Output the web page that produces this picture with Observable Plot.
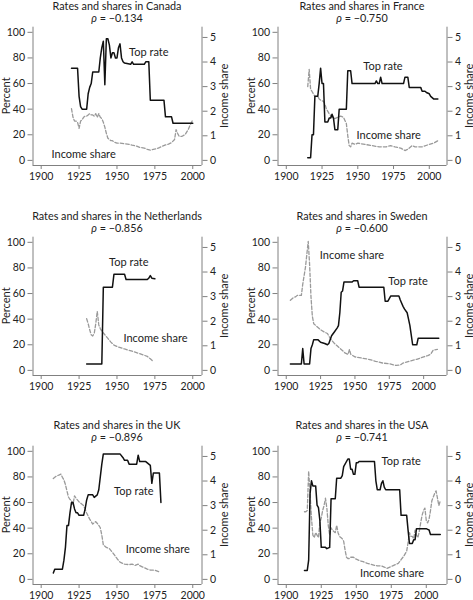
<!DOCTYPE html>
<html><head><meta charset="utf-8">
<script src="https://cdn.jsdelivr.net/npm/d3@7"></script>
<script src="https://cdn.jsdelivr.net/npm/@observablehq/plot@0.6"></script>
<style>
body{margin:0;background:#fff;}
#root{position:relative;width:473px;height:600px;overflow:hidden;background:#fff;}
.panel{position:absolute;width:236px;height:210px;}
.panel svg{max-width:none !important;}
</style></head><body><div id="root"></div>
<script>
const countries = ["Canada","France","the Netherlands","Sweden","the UK","the USA"];
const rhos = ["−0.134","−0.750","−0.856","−0.600","−0.896","−0.741"];
const percentTicks = [0,20,40,60,80,100];
const shareTicks = [0,1,2,3,4,5];
const yearTicks = [1900,1925,1950,1975,2000];

const canadaRate = [[1920,72],[1924,72],[1925,50],[1926,42],[1927,40],[1930,40],[1931,52],[1932,57],[1933,60],[1934,69],[1938,69],[1939,80],[1940,88],[1941,93],[1942,59],[1943,95],[1944,95],[1945,90],[1946,80],[1947,84],[1948,84],[1949,80],[1950,80],[1951,88],[1952,91],[1953,80],[1954,77],[1955,76],[1959,75],[1960,77],[1961,75],[1968,75],[1969,77],[1971,77],[1972,47],[1981,47],[1982,34],[1986,34],[1987,29],[2000,29]];
const canadaShare = [[1920,2.1],[1921,1.75],[1922,1.6],[1923,1.6],[1924,1.55],[1925,1.3],[1926,1.6],[1927,1.65],[1928,1.75],[1929,1.8],[1930,1.8],[1931,1.85],[1932,1.9],[1933,1.85],[1934,1.85],[1935,1.8],[1936,1.9],[1937,1.75],[1938,1.9],[1939,1.75],[1940,1.7],[1941,1.55],[1942,1.35],[1943,1.1],[1944,0.9],[1945,0.85],[1946,0.8],[1947,0.8],[1948,0.75],[1950,0.7],[1952,0.7],[1955,0.68],[1958,0.65],[1960,0.62],[1963,0.58],[1965,0.53],[1968,0.5],[1970,0.45],[1972,0.42],[1974,0.45],[1976,0.47],[1978,0.52],[1980,0.58],[1982,0.63],[1984,0.66],[1986,0.72],[1988,0.85],[1989,1.25],[1990,1.1],[1991,0.98],[1993,0.98],[1995,1.05],[1997,1.25],[1998,1.4],[2000,1.65]];

const franceRate = [[1915,2],[1917,2],[1918,20],[1919,20],[1920,50],[1922,50],[1923,60],[1924,72],[1925,60],[1926,60],[1927,30],[1929,30],[1930,33],[1931,33],[1932,36],[1933,33],[1934,24],[1936,24],[1937,40],[1942,40],[1943,70],[1945,70],[1946,60],[1962,60],[1963,62],[1964,60],[1965,60],[1966,65],[1967,60],[1982,60],[1983,65],[1985,65],[1986,57],[1994,57],[1995,54],[1997,54],[1998,53],[2000,52],[2001,50],[2002,49],[2003,48],[2006,48]];
const franceShare = [[1915,3.0],[1916,3.7],[1917,2.9],[1918,2.8],[1919,2.7],[1920,2.6],[1922,2.6],[1923,2.5],[1924,2.45],[1926,2.4],[1927,2.3],[1928,2.1],[1930,1.9],[1932,1.75],[1934,1.7],[1936,1.75],[1938,1.8],[1940,1.75],[1942,1.5],[1943,1.0],[1944,0.6],[1945,0.55],[1946,0.7],[1948,0.65],[1950,0.7],[1955,0.65],[1960,0.6],[1965,0.55],[1970,0.55],[1973,0.6],[1976,0.55],[1980,0.5],[1983,0.4],[1985,0.45],[1988,0.6],[1990,0.55],[1995,0.55],[2000,0.65],[2003,0.7],[2006,0.8]];

const netherlandsRate = [[1930,5],[1940,5],[1941,65],[1947,65],[1948,75],[1955,75],[1956,71],[1970,71],[1971,72],[1972,74],[1973,72],[1975,71.5]];
const netherlandsShare = [[1930,2.1],[1931,1.9],[1932,1.65],[1933,1.45],[1934,1.4],[1935,1.5],[1936,1.9],[1937,2.4],[1938,1.85],[1939,1.7],[1940,1.6],[1942,1.45],[1944,1.3],[1946,1.15],[1948,1.03],[1950,0.97],[1955,0.87],[1960,0.78],[1965,0.68],[1970,0.57],[1972,0.47],[1974,0.36]];

const swedenRate = [[1903,5],[1911,5],[1912,17],[1913,5],[1917,5],[1918,17],[1919,20],[1920,24],[1923,24],[1925,22],[1928,21],[1930,20],[1931,21],[1933,27],[1935,30],[1937,33],[1938,35],[1939,45],[1940,61],[1941,62],[1942,69],[1948,69],[1949,70],[1952,70],[1953,65],[1971,65],[1972,54],[1974,54],[1976,58],[1982,58],[1983,55],[1985,50],[1986,48],[1988,45],[1989,40],[1990,35],[1992,20],[1995,20],[1996,25],[2011,25]];
const swedenShare = [[1903,2.85],[1905,2.95],[1907,3.0],[1908,3.05],[1911,3.05],[1912,3.5],[1914,4.2],[1916,5.25],[1917,4.3],[1918,3.0],[1919,2.2],[1920,1.9],[1922,1.8],[1925,1.65],[1928,1.55],[1930,1.5],[1932,1.3],[1935,1.1],[1938,0.95],[1940,0.85],[1943,0.7],[1945,0.65],[1946,0.85],[1947,0.65],[1950,0.55],[1955,0.5],[1960,0.45],[1965,0.37],[1970,0.3],[1975,0.27],[1980,0.2],[1983,0.22],[1985,0.3],[1990,0.38],[1995,0.45],[2000,0.55],[2003,0.6],[2005,0.65],[2007,0.83],[2010,0.85]];

const ukRate = [[1908,5],[1909,8],[1914,8],[1915,15],[1916,25],[1917,42],[1918,42],[1919,52],[1920,60],[1921,60],[1922,55],[1923,52],[1924,52],[1925,50],[1928,50],[1929,55],[1930,62],[1931,66],[1934,66],[1935,64],[1937,66],[1938,70],[1939,80],[1940,90],[1941,98],[1952,98],[1954,95],[1955,93],[1957,93],[1958,90],[1963,90],[1964,97],[1965,92],[1969,92],[1971,90],[1972,89],[1973,75],[1974,83],[1978,83],[1979,60]];
const ukShare = [[1908,4.1],[1910,4.2],[1912,4.25],[1913,4.28],[1914,4.15],[1915,4.05],[1916,3.85],[1917,3.6],[1918,3.35],[1919,3.25],[1920,3.2],[1921,3.05],[1922,3.4],[1923,3.3],[1925,3.15],[1928,3.0],[1930,2.7],[1932,2.45],[1934,2.25],[1936,2.35],[1938,2.2],[1939,2.1],[1940,1.8],[1941,1.4],[1943,1.3],[1945,1.25],[1947,1.1],[1950,0.85],[1952,0.7],[1955,0.62],[1958,0.6],[1960,0.62],[1962,0.57],[1964,0.62],[1965,0.56],[1967,0.5],[1970,0.42],[1972,0.38],[1975,0.37],[1978,0.3]];

const usaRate = [[1913,7],[1915,7],[1916,15],[1917,67],[1918,77],[1919,73],[1921,73],[1922,58],[1923,56],[1924,46],[1925,25],[1928,25],[1929,24],[1931,25],[1932,63],[1935,63],[1936,79],[1939,79],[1940,81],[1941,88],[1944,94],[1945,94],[1946,86],[1947,86],[1948,82],[1949,82],[1950,91],[1951,91],[1952,92],[1963,92],[1964,77],[1965,70],[1967,70],[1968,75],[1969,77],[1970,72],[1971,70],[1981,70],[1982,50],[1986,50],[1987,38.5],[1988,28],[1990,28],[1991,31],[1992,31],[1993,39.6],[2000,39.6],[2001,39.1],[2002,38.6],[2003,35],[2010,35]];
const usaShare = [[1913,2.75],[1914,2.75],[1915,2.8],[1916,4.4],[1917,3.5],[1918,2.5],[1919,1.8],[1920,1.7],[1921,1.9],[1922,1.8],[1923,1.7],[1924,2.3],[1925,2.5],[1926,2.8],[1927,3.0],[1928,3.3],[1929,2.9],[1930,2.2],[1931,1.8],[1932,2.1],[1933,2.0],[1934,1.95],[1935,1.9],[1936,2.2],[1937,1.9],[1938,1.75],[1939,1.7],[1940,1.65],[1941,1.55],[1942,1.2],[1943,0.9],[1944,0.85],[1945,0.85],[1946,0.9],[1948,0.9],[1950,0.82],[1953,0.75],[1955,0.72],[1958,0.65],[1960,0.62],[1963,0.57],[1965,0.55],[1968,0.55],[1970,0.5],[1972,0.45],[1974,0.5],[1976,0.55],[1978,0.6],[1980,0.65],[1982,0.8],[1984,0.95],[1986,1.15],[1987,1.5],[1988,1.9],[1989,1.75],[1990,1.75],[1991,1.65],[1992,2.0],[1993,1.8],[1994,1.7],[1995,1.95],[1996,2.3],[1997,2.6],[1998,2.8],[1999,2.9],[2000,2.4],[2001,2.3],[2002,2.45],[2003,2.8],[2004,3.2],[2005,3.35],[2006,3.5],[2007,3.6],[2008,3.3],[2009,3.0],[2010,3.2]];

const rateSeries = [canadaRate, franceRate, netherlandsRate, swedenRate, ukRate, usaRate];
const shareSeries = [canadaShare, franceShare, netherlandsShare, swedenShare, ukShare, usaShare];

const FONT = "Lato, 'Liberation Sans', sans-serif";
const K = 19.2; // income share units -> percent axis units
const xDomains = [[1894.6,2006.1],[1894.2,2012.4],[1894.6,2006.1],[1894,2017],[1894.6,2006.1],[1894.1,2014.8]];
const seriesLabels = [
  [{x:1971,y:84.3,t:"Top rate"},{x:1928,y:4.5,t:"Income share"}],
  [{x:1967.6,y:73,t:"Top rate"},{x:1971.6,y:19.4,t:"Income share"}],
  [{x:1957.8,y:84.3,t:"Top rate"},{x:1975.4,y:25,t:"Income share"}],
  [{x:1988.6,y:69.2,t:"Top rate"},{x:1947.8,y:90,t:"Income share"}],
  [{x:1961.1,y:68.8,t:"Top rate"},{x:1976.9,y:23,t:"Income share"}],
  [{x:1982.1,y:92.4,t:"Top rate"},{x:1975.5,y:4.7,t:"Income share"}]
];

const W = 236, H = 210, FT = 26.7, FB = 165, FL = 32.5, FR = 201.5;
const AXIS = "#808080", TEXT = "#222";
const root = document.getElementById("root");

countries.forEach((c, i) => {
  const col = i % 2, row = Math.floor(i / 2);
  const xd = xDomains[i];
  const chart = Plot.plot({
    width: W, height: H,
    marginTop: FT, marginBottom: H - FB, marginLeft: FL, marginRight: W - FR,
    style: {fontFamily: FONT, fontSize: "10.5px", color: TEXT, background: "transparent", overflow: "visible"},
    x: {domain: xd},
    y: {domain: [-4, 104]},
    marks: [
      Plot.ruleX(xd, {stroke: AXIS, strokeWidth: 1}),
      Plot.ruleY([-4], {stroke: AXIS, strokeWidth: 1}),
      Plot.axisY(percentTicks, {anchor: "left", tickSize: 5, tickPadding: 3, label: null, stroke: AXIS, fill: TEXT}),
      Plot.axisY(shareTicks.map(v => v * K), {anchor: "right", tickSize: 5, tickPadding: 3, label: null, stroke: AXIS, fill: TEXT, tickFormat: d => String(Math.round(d / K))}),
      Plot.axisX(yearTicks, {anchor: "bottom", tickSize: 4, tickPadding: 3, label: null, stroke: AXIS, fill: TEXT, tickFormat: d => String(d)}),
      Plot.line(shareSeries[i], {x: d => d[0], y: d => d[1] * K, stroke: "#9a9a9a", strokeWidth: 1.3, strokeDasharray: "3.5,2"}),
      Plot.line(rateSeries[i], {x: d => d[0], y: d => d[1], stroke: "#111", strokeWidth: 1.5}),
      Plot.text(seriesLabels[i], {x: "x", y: "y", text: "t", fontSize: 11, fill: TEXT})
    ]
  });
  const div = document.createElement("div");
  div.className = "panel";
  div.style.left = (col * 244.5) + "px";
  div.style.top = (row * 209.6) + "px";
  div.appendChild(chart);
  root.appendChild(div);
  const svg = d3.select(chart);
  const cx = (FL + FR) / 2, cy = (FT + FB) / 2;
  svg.append("text").attr("x", cx).attr("y", 9.6).attr("text-anchor", "middle")
    .style("font-family", FONT).style("font-size", "10.8px").attr("fill", TEXT)
    .text("Rates and shares in " + c);
  const sub = svg.append("text").attr("x", cx).attr("y", 22).attr("text-anchor", "middle")
    .style("font-family", FONT).style("font-size", "10.8px").attr("fill", TEXT);
  sub.append("tspan").style("font-style", "italic").text("ρ");
  sub.append("tspan").text(" = " + rhos[i]);
  svg.append("text").attr("transform", `translate(6.5,${cy}) rotate(-90)`).attr("text-anchor", "middle").attr("dy", "0.35em")
    .style("font-family", FONT).style("font-size", "11px").attr("fill", TEXT).text("Percent");
  svg.append("text").attr("transform", `translate(224,${cy}) rotate(-90)`).attr("text-anchor", "middle").attr("dy", "0.35em")
    .style("font-family", FONT).style("font-size", "11px").attr("fill", TEXT).text("Income share");
});
</script></body></html>
